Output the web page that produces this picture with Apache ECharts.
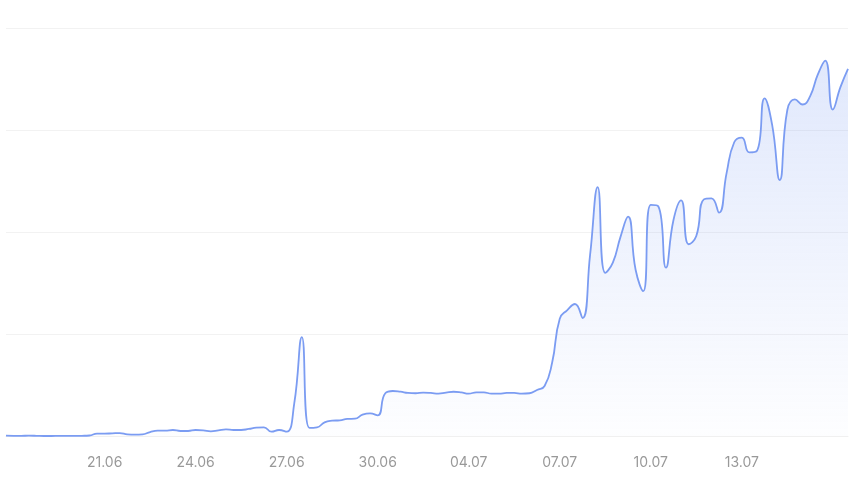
<!DOCTYPE html>
<html>
<head>
<meta charset="utf-8">
<script src="https://cdn.jsdelivr.net/npm/echarts@6/dist/echarts.min.js"></script>
<style>
html,body{margin:0;padding:0;background:#fff;}
#chart{width:850px;height:486px;}
</style>
</head>
<body>
<div id="chart"></div>
<script>
// Days present in the data (03.07 has no data)
const days = ['18.06','19.06','20.06','21.06','22.06','23.06','24.06','25.06','26.06','27.06','28.06','29.06','30.06',
  '01.07','02.07','04.07','05.07','06.07','07.07','08.07','09.07','10.07','11.07','12.07','13.07','14.07','15.07','16.07'];
const hours = ['00:00','06:00','12:00','18:00'];
// Series values (one per 6 hours)
const values = [
  0.3, 0.2, 0.2, 0.3, 0.2, 0, 0, 0.1, 0.1, 0.1, 0.2, 0.5,
  2.4, 2.3, 2.6, 2.9, 1.6, 1.3, 1.6, 3.9, 5.2, 5.2, 5.9, 4.9,
  4.9, 5.9, 5.6, 4.6, 5.6, 6.5, 5.9, 5.9, 6.9, 8.2, 8.5, 4.2,
  5.9, 4.2, 32, 97, 8, 8.5, 13.4, 15, 15.4, 16.7, 17, 20.9,
  22.2, 20.3, 41.9, 44.1, 43.4, 42.2, 41.9, 42.5, 42.2, 41.5, 42.5, 43.4,
  42.8, 41.5, 42.8, 42.8, 41.5, 41.5, 42.2, 42.2, 41.5, 41.9, 45.1, 49,
  72, 115, 123.5, 129.4, 115.7, 177.5, 244, 160, 170, 195, 215, 163,
  142, 226.5, 225, 165, 212, 231, 188, 196, 232, 233, 219, 258,
  288, 292.6, 278, 279.6, 331, 305, 251, 319.6, 330, 325, 333, 354,
  368, 320, 342, 360
];
const shownLabels = ['21.06','24.06','27.06','30.06','04.07','07.07','10.07','13.07'];

const categories = [];
days.forEach(d => hours.forEach(h => categories.push(d + ' ' + h)));

const chart = echarts.init(document.getElementById('chart'), null, {renderer: 'canvas'});
chart.setOption({
  animation: false,
  grid: {left: 6, right: 2, top: 28, bottom: 50, containLabel: false},
  xAxis: {
    type: 'category',
    data: categories,
    boundaryGap: false,
    axisLine: {show: true, lineStyle: {color: '#f0f0f0', width: 1}},
    axisTick: {show: false},
    axisLabel: {
      interval: (idx, val) => val.slice(6) === '06:00' && shownLabels.includes(val.slice(0, 5)),
      formatter: v => v.slice(0, 5),
      color: '#999999',
      fontFamily: 'Inter',
      fontSize: 14,
      margin: 20
    },
    splitLine: {show: false}
  },
  yAxis: {
    type: 'value',
    min: 0,
    max: 400,
    interval: 100,
    axisLabel: {show: false},
    axisLine: {show: false},
    axisTick: {show: false},
    splitLine: {show: true, lineStyle: {color: '#f2f2f2', width: 1}}
  },
  series: [{
    type: 'line',
    data: values,
    smooth: 0.5,
    symbol: 'none',
    lineStyle: {color: '#7b9cf2', width: 1.8},
    areaStyle: {
      color: new echarts.graphic.LinearGradient(0, 0, 0, 1, [
        {offset: 0, color: 'rgba(123,156,242,0.33)'},
        {offset: 1, color: 'rgba(123,156,242,0.02)'}
      ])
    }
  }]
});
</script>
</body>
</html>
